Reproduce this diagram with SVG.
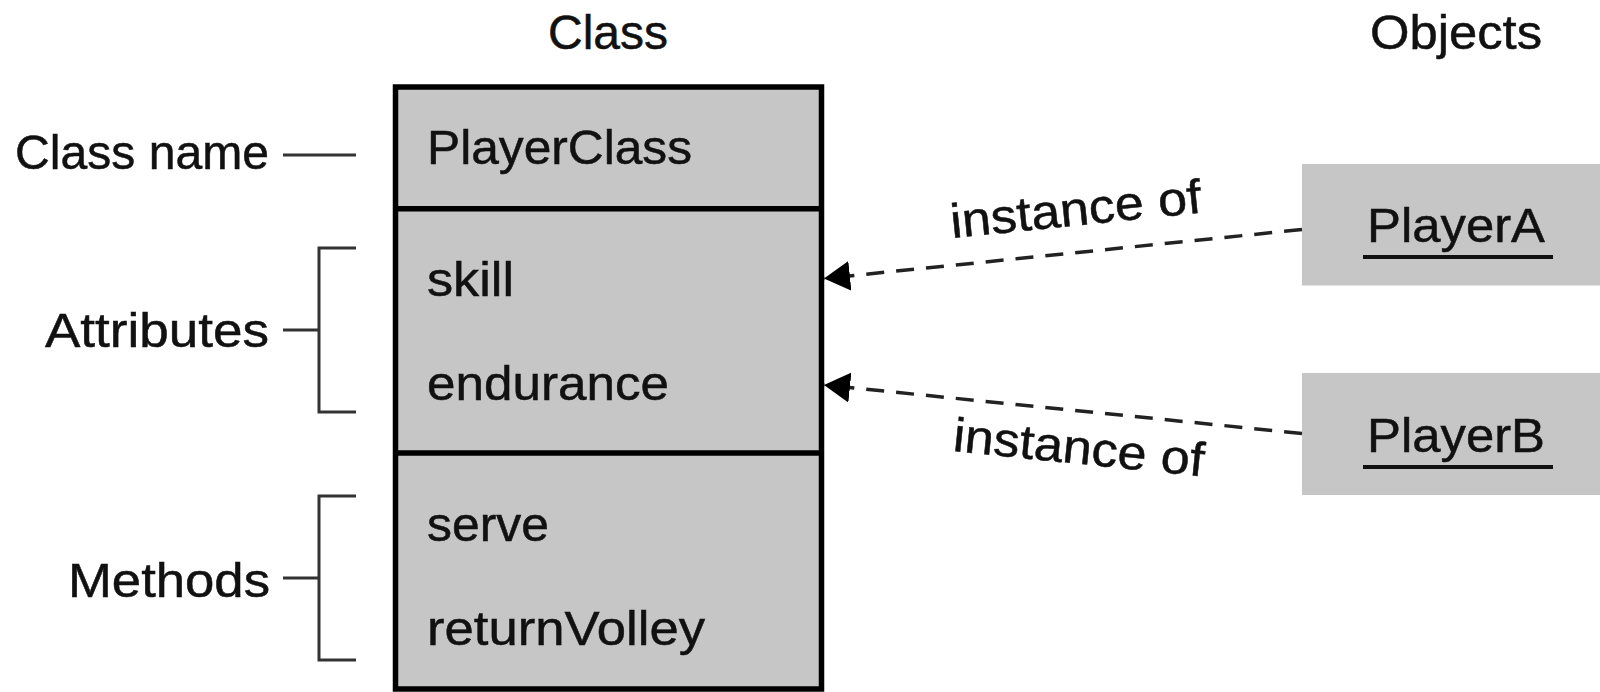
<svg xmlns="http://www.w3.org/2000/svg" width="1600" height="692" viewBox="0 0 1600 692">
  <defs>
    <style>
      text { font-family: "Liberation Sans", Arial, sans-serif; font-size: 48px; fill: #111; stroke: #111; stroke-width: 0.5; }
      .box { fill: #c6c6c6; }
      .frame { fill: none; stroke: #000; stroke-width: 5.5; }
      .rule { stroke: #000; stroke-width: 5.5; }
      .brace { fill: none; stroke: #333; stroke-width: 3; }
      .link { fill: none; stroke: #222; stroke-width: 3.5; stroke-dasharray: 18 12; }
      .uline { stroke: #111; stroke-width: 4; }
    </style>
    <marker id="head" markerUnits="userSpaceOnUse" markerWidth="28" markerHeight="32" refX="26" refY="15" orient="auto">
      <path d="M0,0 L26,15 L0,30 Z" fill="#000"/>
    </marker>
  </defs>
  <rect width="1600" height="692" fill="#fff"/>

  <!-- column headings -->
  <g id="headings">
    <text x="548" y="49" textLength="120" lengthAdjust="spacingAndGlyphs">Class</text>
    <text x="1370" y="49" textLength="172" lengthAdjust="spacingAndGlyphs">Objects</text>
  </g>

  <!-- annotations on the left -->
  <g id="label-classname">
    <text x="15" y="169" textLength="254" lengthAdjust="spacingAndGlyphs">Class name</text>
    <line class="brace" x1="283" y1="155" x2="356" y2="155"/>
  </g>
  <g id="label-attributes">
    <text x="45" y="347" textLength="224" lengthAdjust="spacingAndGlyphs">Attributes</text>
    <line class="brace" x1="283" y1="330" x2="319" y2="330"/>
    <path class="brace" d="M356,248 H319 V412 H356"/>
  </g>
  <g id="label-methods">
    <text x="68" y="597" textLength="202" lengthAdjust="spacingAndGlyphs">Methods</text>
    <line class="brace" x1="283" y1="578" x2="319" y2="578"/>
    <path class="brace" d="M356,496 H319 V660 H356"/>
  </g>

  <!-- the class box -->
  <g id="player-class">
    <rect class="box" x="395.5" y="87" width="426" height="602"/>
    <line class="rule" x1="395.5" y1="208.7" x2="821.5" y2="208.7"/>
    <line class="rule" x1="395.5" y1="453" x2="821.5" y2="453"/>
    <rect class="frame" x="395.5" y="87" width="426" height="602"/>
    <text x="427" y="164" textLength="265" lengthAdjust="spacingAndGlyphs">PlayerClass</text>
    <text x="427" y="296" textLength="87" lengthAdjust="spacingAndGlyphs">skill</text>
    <text x="427" y="400" textLength="242" lengthAdjust="spacingAndGlyphs">endurance</text>
    <text x="427" y="541" textLength="122" lengthAdjust="spacingAndGlyphs">serve</text>
    <text x="427" y="645" textLength="278" lengthAdjust="spacingAndGlyphs">returnVolley</text>
  </g>

  <!-- object instances -->
  <g id="player-a">
    <rect class="box" x="1302" y="164" width="298" height="121.5"/>
    <text x="1367" y="241.7" textLength="178" lengthAdjust="spacingAndGlyphs">PlayerA</text>
    <line class="uline" x1="1363" y1="257" x2="1553" y2="257"/>
  </g>
  <g id="player-b">
    <rect class="box" x="1302" y="373" width="298" height="122"/>
    <text x="1367" y="451.7" textLength="178" lengthAdjust="spacingAndGlyphs">PlayerB</text>
    <line class="uline" x1="1363" y1="467" x2="1553" y2="467"/>
  </g>

  <!-- instance-of connectors -->
  <g id="connectors">
    <line class="link" x1="1302" y1="229.5" x2="824" y2="278.5" marker-end="url(#head)"/>
    <line class="link" x1="1302" y1="433.5" x2="824" y2="385" marker-end="url(#head)"/>
    <text transform="translate(952,238) rotate(-5.8)" textLength="252" lengthAdjust="spacingAndGlyphs">instance of</text>
    <text transform="translate(952,451) rotate(5.8)" textLength="252" lengthAdjust="spacingAndGlyphs">instance of</text>
  </g>
</svg>
